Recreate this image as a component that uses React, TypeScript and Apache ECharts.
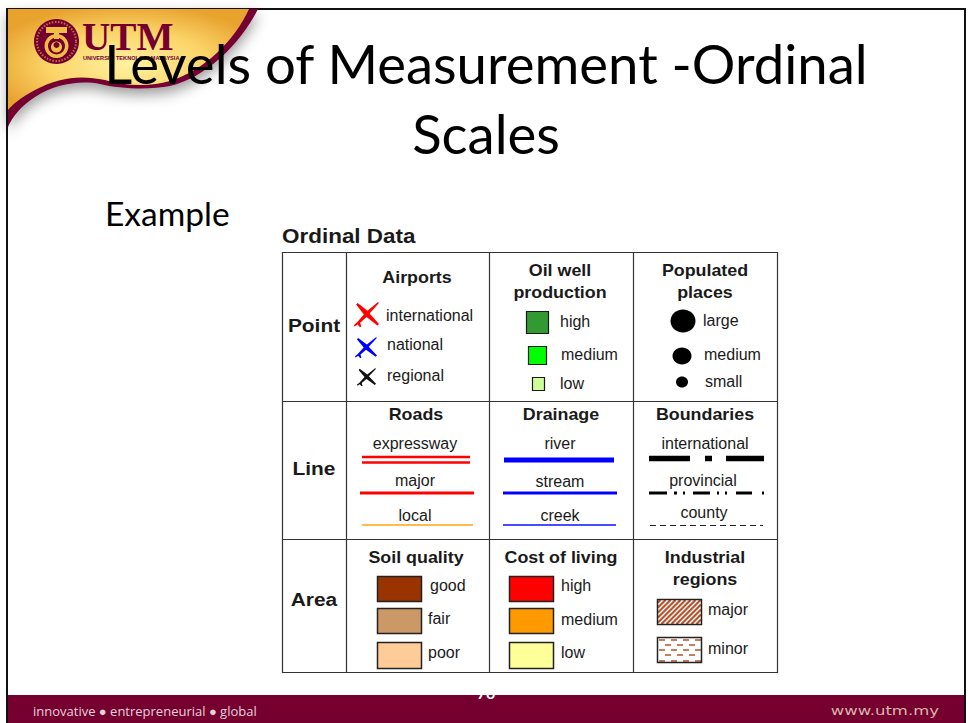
import React, { useEffect, useRef } from "react";
import * as echarts from "echarts";

const titleLines = ["Levels of Measurement -Ordinal", "Scales"];
const exampleLabel = "Example";
const tableTitle = "Ordinal Data";
const rowHeads = ["Point", "Line", "Area"];
const airportLabels = ["international", "national", "regional"];
const oilLabels = ["high", "medium", "low"];
const placeLabels = ["large", "medium", "small"];
const roadLabels = ["expressway", "major", "local"];
const drainLabels = ["river", "stream", "creek"];
const boundaryLabels = ["international", "provincial", "county"];
const soilLabels = ["good", "fair", "poor"];
const costLabels = ["high", "medium", "low"];
const industryLabels = ["major", "minor"];
const airportColors = ["#ff0000", "#0000ff", "#111111"];
const oilColors = ["#339933", "#00ff00", "#ccff99"];
const soilColors = ["#993300", "#cc9966", "#ffcc99"];
const costColors = ["#ff0000", "#ff9900", "#ffff99"];

const MAROON = "#750030";
const SANS = "'Liberation Sans', Arial, sans-serif";
const SLIDE = "Lato, 'Noto Sans', sans-serif";

echarts.graphic.registerShape("plane", echarts.graphic.extendPath(
  "M22.5 0.5 C23.5 0 24 0.5 23.5 1.5 L15 11 L24 21 L22.5 22.5 L12 14.5 L6 20 L7 24 L5.5 24 L3.5 21.5 L0.5 23.5 L0 22 L3 19.5 L9.5 12 L2 2.5 L3.5 1 L13 8.5 Z", {}) as any);
echarts.graphic.registerShape("bandBack", echarts.graphic.extendPath(
  "M8 9 L258 9 C240 45 205 78 170 86 C150 90 120 89 100 84 C80 80 55 84 35 97 C22 105 12 117 8 127 Z", {}) as any);
echarts.graphic.registerShape("bandGold", echarts.graphic.extendPath(
  "M8 9 L249 9 C235 40 205 70 170 81 C150 87 125 86 105 80 C80 75 60 77 35 90 C20 98 12 105 8 110 Z", {}) as any);

function txt(text: string, x: number, y: number, opt: any = {}) {
  return {
    type: "text", x, y, silent: true, z: opt.z ?? 5, scaleX: opt.sx ?? 1,
    style: {
      text, fill: opt.fill ?? "#1a1a1a",
      font: `${opt.bold ? "bold " : ""}${opt.size ?? 16}px ${opt.family ?? SANS}`,
      textAlign: opt.align ?? "left", textVerticalAlign: "middle",
    },
  };
}
const rect = (x: number, y: number, w: number, h: number, fill: string, stroke = "none", lw = 0, z = 3) => ({
  type: "rect", silent: true, z, shape: { x, y, width: w, height: h },
  style: { fill, stroke, lineWidth: lw },
});
const seg = (x1: number, y1: number, x2: number, y2: number, stroke: string, lw: number, dash?: number[], z = 3) => ({
  type: "line", silent: true, z, shape: { x1, y1, x2, y2 },
  style: { stroke, lineWidth: lw, lineDash: dash },
});

function hatch(x0: number, y0: number, w: number, h: number, step: number) {
  const out: any[] = [];
  for (let c = step / 2; c < w + h; c += step) {
    const x1 = Math.max(0, c - h), y1 = c - x1;
    const x2 = Math.min(w, c), y2 = c - x2;
    out.push(seg(x0 + x1, y0 + y1, x0 + x2, y0 + y2, "#b5532a", 2.2, undefined, 3));
  }
  return out;
}

function buildGraphics() {
  const g: any[] = [];
  // slide frame
  g.push(rect(7, 9, 958, 700, "#ffffff", "#111111", 2, 0));
  // corner artwork
  g.push({
    type: "bandBack", silent: true, z: 1,
    style: { fill: MAROON, shadowBlur: 14, shadowColor: "rgba(0,0,0,0.4)", shadowOffsetY: 6 },
  });
  g.push({
    type: "bandGold", silent: true, z: 1,
    style: {
      fill: new echarts.graphic.RadialGradient(0.5, 0.55, 0.6, [
        { offset: 0, color: "#fff2a0" }, { offset: 0.55, color: "#fbd468" }, { offset: 1, color: "#e8a22e" },
      ]),
    },
  });
  const cc = 56.5;
  g.push({ type: "circle", silent: true, z: 2, shape: { cx: cc, cy: 41.5, r: 22.5 }, style: { fill: MAROON } });
  g.push({ type: "circle", silent: true, z: 2, shape: { cx: cc, cy: 41.5, r: 19.5 }, style: { fill: "none", stroke: "#d9a24a", lineWidth: 2, lineDash: [1.5, 1.5], opacity: 0.7 } });
  g.push({ type: "circle", silent: true, z: 2, shape: { cx: cc, cy: 46, r: 12 }, style: { fill: "#f0bd45" } });
  g.push({ type: "circle", silent: true, z: 2, shape: { cx: cc, cy: 46, r: 8.5 }, style: { fill: MAROON } });
  g.push({ type: "circle", silent: true, z: 2, shape: { cx: cc, cy: 47, r: 5.5 }, style: { fill: "#f0bd45" } });
  g.push({ type: "circle", silent: true, z: 2, shape: { cx: cc, cy: 45, r: 3 }, style: { fill: MAROON } });
  g.push(rect(46, 27, 21, 6, "#f0bd45", "none", 0, 2));
  g.push(rect(54, 33, 5, 6, "#f0bd45", "none", 0, 2));
  g.push(txt("UTM", 82, 37, { family: "'Liberation Serif', serif", bold: true, size: 40, fill: MAROON, z: 2, sx: 0.98 }));
  g.push(txt("UNIVERSITI TEKNOLOGI MALAYSIA", 83, 58, { bold: true, size: 5.6, fill: MAROON, z: 2 }));

  // slide text
  g.push(txt(titleLines[0], 486, 63, { family: SLIDE, size: 54.5, align: "center", fill: "#000" }));
  g.push(txt(titleLines[1], 486, 133, { family: SLIDE, size: 54.5, align: "center", fill: "#000" }));
  g.push(txt(exampleLabel, 105, 213, { family: SLIDE, size: 33.5, fill: "#000" }));
  g.push(txt(tableTitle, 282, 235.5, { bold: true, size: 21, sx: 1.07 }));

  // table
  g.push(rect(282.5, 252.5, 495, 420, "#ffffff", "#333333", 1.2, 1));
  [346.5, 489.5, 633.5].forEach((x) => g.push(seg(x, 252, x, 673, "#333333", 1.2)));
  [401.5, 539.5].forEach((y) => g.push(seg(282, y, 778, y, "#333333", 1.2)));
  const rowY = [325, 468, 599];
  rowHeads.forEach((s, i) => g.push(txt(s, 314, rowY[i], { bold: true, size: 19, align: "center", sx: 1.1 })));

  const head = (s: string, x: number, y: number) => g.push(txt(s, x, y, { bold: true, size: 17, align: "center", sx: 1.05 }));
  head("Airports", 417, 277);
  head("Oil well", 560, 270);
  head("production", 560, 292);
  head("Populated", 705, 270);
  head("places", 705, 292);
  head("Roads", 416, 414);
  head("Drainage", 561, 414);
  head("Boundaries", 705, 414);
  head("Soil quality", 416, 557);
  head("Cost of living", 561, 557);
  head("Industrial", 705, 557);
  head("regions", 705, 579);

  // airports
  const planeBox = [[354, 302, 25, 25], [355, 337, 22, 21], [357, 368, 19, 18]];
  const airY = [315, 344, 375], airX = [386, 387, 387];
  airportLabels.forEach((s, i) => {
    const [x, y, w, h] = planeBox[i];
    g.push({ type: "plane", x, y, scaleX: w / 24, scaleY: h / 24, silent: true, z: 3, style: { fill: airportColors[i] } });
    g.push(txt(s, airX[i], airY[i]));
  });

  // oil
  const oilBox = [[526, 311, 22, 22], [528, 346, 18, 18], [532, 377, 12, 13]];
  const oilY = [321, 354, 383], oilX = [560, 561, 560];
  oilLabels.forEach((s, i) => {
    const [x, y, w, h] = oilBox[i];
    g.push(rect(x + 0.5, y + 0.5, w, h, oilColors[i], "#1a1a1a", 1.2));
    g.push(txt(s, oilX[i], oilY[i]));
  });

  // places
  const dots = [[683, 321, 12.5, 11.5], [682, 356, 9.5, 8.5], [682, 382, 6, 5.5]];
  const placeY = [320, 354, 381], placeX = [703, 704, 705];
  placeLabels.forEach((s, i) => {
    const [cx, cy, rx, ry] = dots[i];
    g.push({ type: "ellipse", silent: true, z: 3, shape: { cx, cy, rx, ry }, style: { fill: "#000" } });
    g.push(txt(s, placeX[i], placeY[i]));
  });

  // roads
  const lineY = [443, 480, 515];
  roadLabels.forEach((s, i) => g.push(txt(s, 415, lineY[i], { align: "center" })));
  g.push(seg(362, 457, 470, 457, "#ff0000", 2.5));
  g.push(seg(362, 462.5, 470, 462.5, "#ff0000", 2.5));
  g.push(seg(360, 493, 474, 493, "#ff0000", 3));
  g.push(seg(362, 525, 473, 525, "#ffb950", 2));

  // drainage
  const drainY = [443, 481, 515];
  drainLabels.forEach((s, i) => g.push(txt(s, 560, drainY[i], { align: "center" })));
  g.push(seg(504, 460, 614, 460, "#0000ff", 5));
  g.push(seg(503, 493, 617, 493, "#0000ff", 3));
  g.push(seg(503, 525, 616, 525, "#4a4aff", 2));

  // boundaries
  const boundY = [443, 480, 512], boundX = [705, 703, 704];
  boundaryLabels.forEach((s, i) => g.push(txt(s, boundX[i], boundY[i], { align: "center" })));
  [[649, 690], [705, 712], [726, 764]].forEach(([a, b]) => g.push(seg(a, 458.5, b, 458.5, "#000", 5.5)));
  [[649, 667], [674, 677], [683, 685], [693, 710], [717, 719], [725, 727], [736, 752], [762, 764]]
    .forEach(([a, b]) => g.push(seg(a, 493, b, 493, "#000", 3)));
  g.push(seg(650, 525.5, 763, 525.5, "#222222", 1, [6, 4]));

  // soil + cost
  const swatchY = [[576, 25], [608, 25], [642, 26]];
  const soilTextX = [430, 428, 428], soilTextY = [585, 618, 652], costTextY = [585, 619, 652];
  soilLabels.forEach((s, i) => {
    const [y, h] = swatchY[i];
    g.push(rect(377.5, y + 0.5, 44, h, soilColors[i], "#222222", 1.5));
    g.push(txt(s, soilTextX[i], soilTextY[i]));
  });
  costLabels.forEach((s, i) => {
    const [y, h] = swatchY[i];
    g.push(rect(509.5, y + 0.5, 44, h, costColors[i], "#222222", 1.5));
    g.push(txt(s, 561, costTextY[i]));
  });

  // industrial
  g.push(rect(657.5, 599.5, 44, 25, "#ffffff", "none", 0, 2));
  g.push(...hatch(658, 600, 43, 24, 5));
  g.push(rect(657.5, 599.5, 44, 25, "none", "#222222", 1.5, 4));
  g.push(rect(657.5, 637.5, 44, 25, "#ffffff", "none", 0, 2));
  [[640, 0], [645, 6], [650, 0], [655, 6], [661, 0]].forEach(([y, off]) => {
    for (let x = 659 + off; x < 699; x += 12) g.push(seg(x, y, Math.min(x + 6, 701), y, "#b5532a", 1.5));
  });
  g.push(rect(657.5, 637.5, 44, 25, "none", "#222222", 1.5, 4));
  g.push(txt(industryLabels[0], 708, 609));
  g.push(txt(industryLabels[1], 708, 648));

  // footer
  g.push(rect(8, 695, 956, 28, MAROON, "none", 0, 1));
  g.push(seg(7, 696, 7, 723, "#111111", 2, undefined, 2));
  g.push(seg(965, 696, 965, 723, "#111111", 2, undefined, 2));
  g.push(txt("70", 486, 692, { family: SLIDE, size: 16, bold: true, align: "center", fill: "#ffffff", z: 2 }));
  g.push(txt("innovative ● entrepreneurial ● global", 33, 711, { family: "'Open Sans', sans-serif", size: 13, fill: "#e6d3d8" }));
  g.push(txt("www.utm.my", 939, 711, { family: "'DejaVu Sans', sans-serif", size: 13, align: "right", fill: "#dbb5ac", sx: 1.27 }));
  return g;
}

export default function App() {
  const ref = useRef<HTMLDivElement>(null);
  useEffect(() => {
    document.body.style.margin = "0";
    const chart = echarts.init(ref.current!, undefined, { renderer: "svg" });
    chart.setOption({ animation: false, graphic: { elements: buildGraphics() } });
    return () => chart.dispose();
  }, []);
  return <div ref={ref} style={{ width: 968, height: 723, background: "#fff" }} />;
}
